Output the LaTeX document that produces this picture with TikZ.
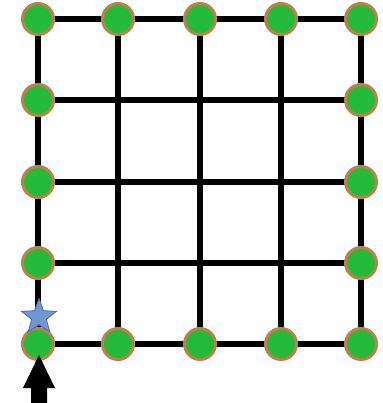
\documentclass[tikz,border=0pt]{standalone}
\usetikzlibrary{shapes.geometric,backgrounds}
\definecolor{dotgreen}{RGB}{36,186,58}
\definecolor{dotrim}{RGB}{186,130,74}
\definecolor{starfill}{RGB}{112,150,212}
\definecolor{starrim}{RGB}{72,108,176}
\tikzset{
  dot/.style={circle,fill=dotgreen,draw=dotrim,line width=3pt,minimum size=31pt,inner sep=0pt},
  gridline/.style={line width=6.5pt,black},
  mark star/.style={star,star points=5,star point ratio=2.4,fill=starfill,draw=starrim,
    line width=0.8pt,minimum size=37pt,inner sep=0pt},
}
\begin{document}
\begin{tikzpicture}[x=1pt,y=-1pt]
  \useasboundingbox (0,0) rectangle (382,403);
  % column and row positions
  \def\xa{38}\def\xb{118}\def\xc{200}\def\xd{281}\def\xe{361}
  \def\ya{19}\def\yb{100}\def\yc{182}\def\yd{263}\def\ye{344}
  % boundary dots: top row
  \node[dot] (t1) at (\xa,\ya) {};
  \node[dot] (t2) at (\xb,\ya) {};
  \node[dot] (t3) at (\xc,\ya) {};
  \node[dot] (t4) at (\xd,\ya) {};
  \node[dot] (t5) at (\xe,\ya) {};
  % bottom row
  \node[dot] (b1) at (\xa,\ye) {};
  \node[dot] (b2) at (\xb,\ye) {};
  \node[dot] (b3) at (\xc,\ye) {};
  \node[dot] (b4) at (\xd,\ye) {};
  \node[dot] (b5) at (\xe,\ye) {};
  % left column
  \node[dot] (l2) at (\xa,\yb) {};
  \node[dot] (l3) at (\xa,\yc) {};
  \node[dot] (l4) at (\xa,\yd) {};
  % right column
  \node[dot] (r2) at (\xe,\yb) {};
  \node[dot] (r3) at (\xe,\yc) {};
  \node[dot] (r4) at (\xe,\yd) {};
  % grid lines behind the dots
  \begin{scope}[on background layer]
    \draw[gridline] (t1.center) -- (t5.center);
    \draw[gridline] (l2.center) -- (r2.center);
    \draw[gridline] (l3.center) -- (r3.center);
    \draw[gridline] (l4.center) -- (r4.center);
    \draw[gridline] (b1.center) -- (b5.center);
    \draw[gridline] (t1.center) -- (b1.center);
    \draw[gridline] (t2.center) -- (b2.center);
    \draw[gridline] (t3.center) -- (b3.center);
    \draw[gridline] (t4.center) -- (b4.center);
    \draw[gridline] (t5.center) -- (b5.center);
  \end{scope}
  % start marker
  \node[mark star] (start) at (39,317) {};
  % entry arrow pointing up at the start corner
  \fill[black] (39,355) -- (55,388) -- (47,388) -- (47,410) -- (31,410) -- (31,388) -- (23,388) -- cycle;
\end{tikzpicture}
\end{document}
